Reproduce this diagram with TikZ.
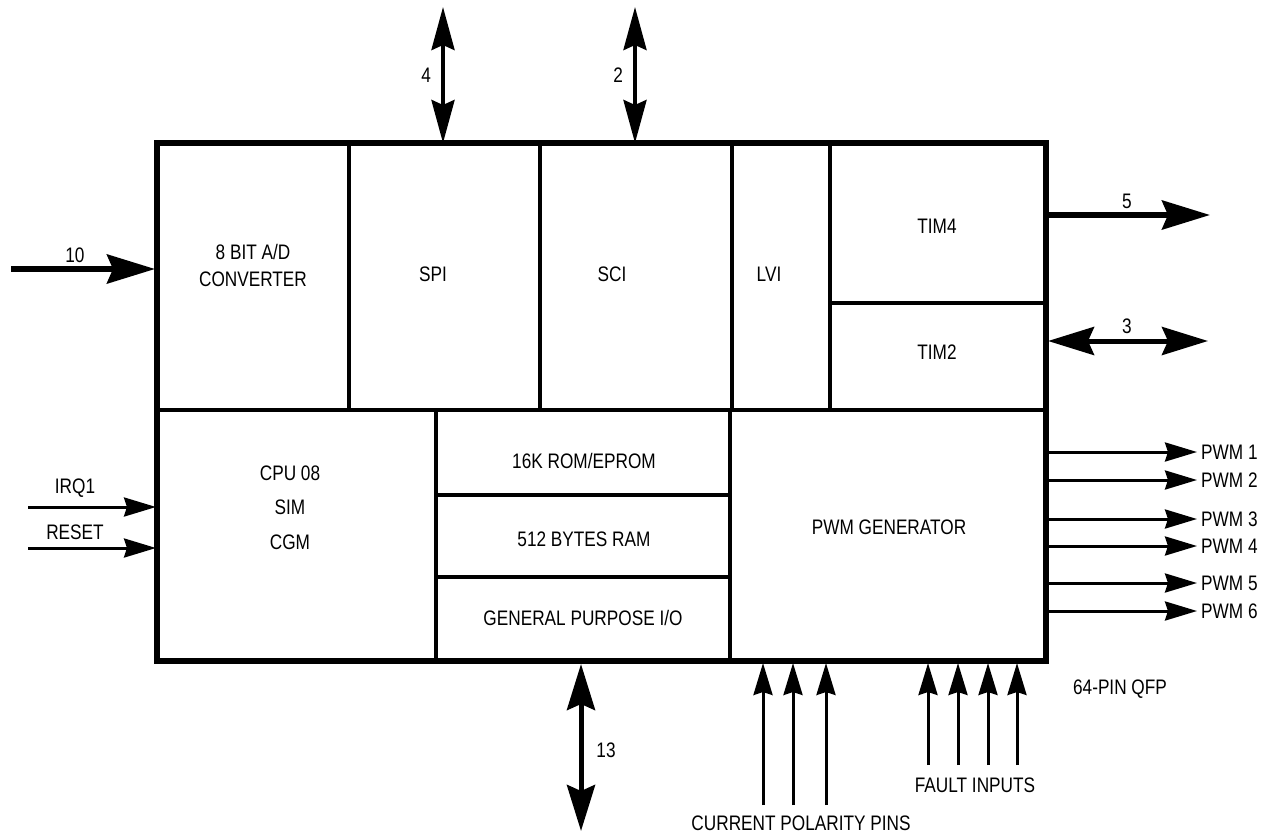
\documentclass[tikz,border=0pt]{standalone}
\usepackage{fontspec}
\setmainfont{Liberation Sans}[FakeStretch=0.82]
\usetikzlibrary{arrows.meta}
\begin{document}
\begin{tikzpicture}[x=1pt,y=-1pt,
  lbl/.style={font=\fontsize{21}{27}\selectfont, inner sep=0pt, align=center},
  outer/.style={line width=6pt, line join=miter},
  inner/.style={line width=4pt},
  bigarrow/.style={line width=5.5pt, -{Stealth[length=48pt,width=29pt,inset=6pt]}},
  bigdbl/.style={line width=5pt, {Stealth[length=46pt,width=28pt,inset=6pt]}-{Stealth[length=46pt,width=28pt,inset=6pt]}},
  topdbl/.style={line width=4pt, {Stealth[length=43pt,width=23pt,inset=5pt]}-{Stealth[length=43pt,width=23pt,inset=5pt]}},
  pinarrow/.style={line width=3pt, -{Stealth[length=32pt,width=19pt,inset=3pt]}},
]
\useasboundingbox (0,0) rectangle (1265,835);

% frame and dividers
\draw[outer] (157,143) rectangle (1046,661);
\draw[inner] (157,410) -- (1046,410);
\draw[inner] (349,143) -- (349,410);
\draw[inner] (540,143) -- (540,410);
\draw[inner] (732,143) -- (732,410);
\draw[inner] (830,143) -- (830,410);
\draw[inner] (830,303) -- (1046,303);
\draw[inner] (436,410) -- (436,661);
\draw[inner] (730,410) -- (730,661);
\draw[inner] (436,495) -- (730,495);
\draw[inner] (436,577) -- (730,577);

% block labels
\node[lbl] (adc) at (253,265) {8 BIT A/D\\CONVERTER};
\node[lbl] (spi) at (433,274) {SPI};
\node[lbl] (sci) at (612,274) {SCI};
\node[lbl] (lvi) at (769,274) {LVI};
\node[lbl] (tim4) at (937,226) {TIM4};
\node[lbl] (tim2) at (937,352) {TIM2};
\node[lbl] (cpu) at (290,473) {CPU 08};
\node[lbl] (sim) at (290,507) {SIM};
\node[lbl] (cgm) at (290,542) {CGM};
\node[lbl] (rom) at (584,461) {16K ROM/EPROM};
\node[lbl] (ram) at (584,539) {512 BYTES RAM};
\node[lbl] (gpio) at (583,618) {GENERAL PURPOSE I/O};
\node[lbl] (pwmg) at (889,527) {PWM GENERATOR};

% edge coordinates
\coordinate (spiT) at (443,143);   \coordinate (spiF) at (443,7);
\coordinate (sciT) at (635,143);   \coordinate (sciF) at (635,7);
\coordinate (adcL) at (155,269);   \coordinate (adcF) at (11,269);
\coordinate (tim4R) at (1046,215); \coordinate (tim4F) at (1210,215);
\coordinate (tim2R) at (1048,341); \coordinate (tim2F) at (1208,341);
\coordinate (irqE) at (156,507);   \coordinate (irqF) at (28,507);
\coordinate (rstE) at (156,548);   \coordinate (rstF) at (28,548);
\coordinate (ioB) at (581,664);    \coordinate (ioF) at (581,831);

\draw[topdbl] (spiF) -- (spiT) node[pos=0.5, left=10pt, lbl] (n4) {4};
\draw[topdbl] (sciF) -- (sciT) node[pos=0.5, left=10pt, lbl] (n2) {2};
\draw[bigarrow] (adcF) -- (adcL);
\node[lbl] (n10) at (75,255) {10};
\draw[bigarrow] (tim4R) -- (tim4F);
\node[lbl] (n5) at (1127,201) {5};
\draw[bigdbl] (tim2R) -- (tim2F);
\node[lbl] (n3) at (1127,326) {3};
\draw[pinarrow] (irqF) -- (irqE);
\node[lbl] (irq) at (75,488) {IRQ1};
\draw[pinarrow] (rstF) -- (rstE);
\node[lbl] (rst) at (75,532) {RESET};
\draw[bigdbl] (ioB) -- (ioF);
\node[lbl] (n13) at (606,750) {13};

% PWM outputs
\foreach \i/\y in {1/452,2/480,3/519,4/546,5/583,6/611}{
  \coordinate (pwmS\i) at (1046,\y);
  \coordinate (pwmE\i) at (1197,\y);
  \draw[pinarrow] (pwmS\i) -- (pwmE\i);
  \node[lbl, anchor=west] (pwm\i) at (1201,\y) {PWM \i};
}

% current polarity pins
\foreach \i/\x in {1/763,2/793,3/826}{
  \coordinate (cpF\i) at (\x,805);
  \coordinate (cpE\i) at (\x,663);
  \draw[pinarrow] (cpF\i) -- (cpE\i);
}
\node[lbl] (cpl) at (801,823) {CURRENT POLARITY PINS};

% fault inputs
\foreach \i/\x in {1/928,2/958,3/988,4/1017}{
  \coordinate (fiF\i) at (\x,765);
  \coordinate (fiE\i) at (\x,663);
  \draw[pinarrow] (fiF\i) -- (fiE\i);
}
\node[lbl] (fil) at (975,785) {FAULT INPUTS};
\node[lbl] (qfp) at (1120,689) {64-PIN QFP};
\end{tikzpicture}
\end{document}
